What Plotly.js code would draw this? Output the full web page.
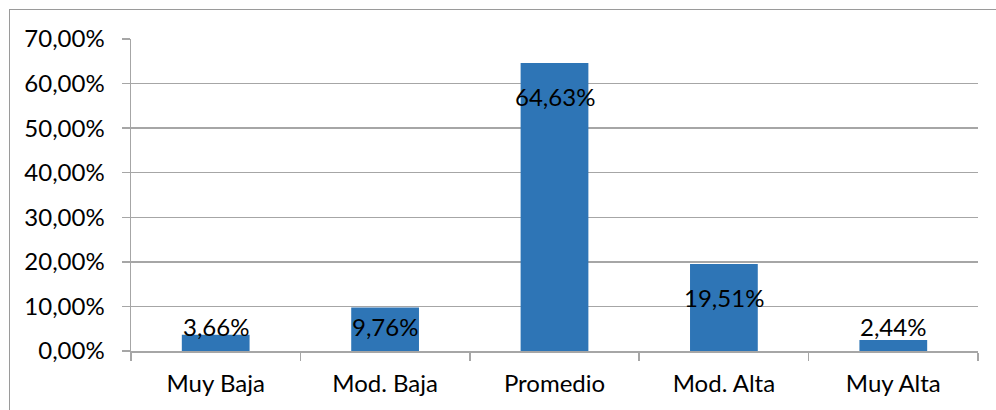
<!DOCTYPE html>
<html><head><meta charset="utf-8">
<script src="https://cdn.plot.ly/plotly-3.0.1.min.js"></script>
<style>
html,body{margin:0;padding:0;background:#fff;}
#wrap{position:relative;width:996px;height:410px;overflow:hidden;}
#chart{position:absolute;left:0;top:0;width:996px;height:410px;}
#frame{position:absolute;left:9px;top:9px;width:1000px;height:420px;border:1px solid #9a9a9a;box-sizing:border-box;pointer-events:none;}
</style>
</head><body>
<div id="wrap"><div id="chart"></div><div id="frame"></div></div>
<script>
const categories = ["Muy Baja", "Mod. Baja", "Promedio", "Mod. Alta", "Muy Alta"];
const values = [3.66, 9.76, 64.63, 19.51, 2.44];
const labels = ["3,66%", "9,76%", "64,63%", "19,51%", "2,44%"];
const yTickVals = [0, 10, 20, 30, 40, 50, 60, 70];
const yTickText = ["0,00%", "10,00%", "20,00%", "30,00%", "40,00%", "50,00%", "60,00%", "70,00%"];

const font = {family: "Lato, Open Sans, sans-serif", size: 24, color: "#000"};

const annotations = categories.map((c, i) => ({
  x: c, y: Math.max(values[i] - 7.6, 5.6), xref: "x", yref: "y",
  text: labels[i], showarrow: false, yanchor: "middle", xanchor: "center",
  font: {family: font.family, size: 24, color: "#000"}
}));

Plotly.newPlot("chart", [{
  type: "bar", x: categories, y: values,
  marker: {color: "#2E75B6"}, hoverinfo: "none"
}], {
  width: 996, height: 410,
  margin: {l: 131, r: 18, t: 39, b: 59},
  paper_bgcolor: "#fff", plot_bgcolor: "#fff",
  bargap: 0.6, showlegend: false,
  font: font,
  xaxis: {
    type: "category", showgrid: false, showline: true, linecolor: "#a6a6a6", linewidth: 1.5,
    ticks: "outside", tickson: "boundaries", ticklen: 8, tickcolor: "#a6a6a6", tickwidth: 1.5,
    ticklabelstandoff: 11,
    tickfont: font, fixedrange: true
  },
  yaxis: {
    range: [0, 70], tickvals: yTickVals, ticktext: yTickText,
    showgrid: true, gridcolor: "#a6a6a6", gridwidth: 1.5,
    showline: true, linecolor: "#a6a6a6", linewidth: 1.5,
    ticks: "outside", ticklen: 8, tickcolor: "#a6a6a6", tickwidth: 1.5,
    ticklabelstandoff: 12, zeroline: false,
    tickfont: font, fixedrange: true
  },
  annotations: annotations
}, {staticPlot: true});
</script>
</body></html>
